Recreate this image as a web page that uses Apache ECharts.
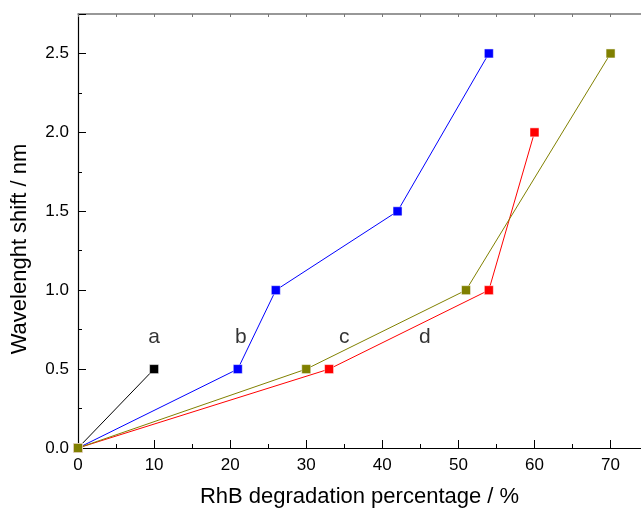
<!DOCTYPE html>
<html><head><meta charset="utf-8">
<script src="https://cdn.jsdelivr.net/npm/echarts@6/dist/echarts.min.js"></script>
<style>html,body{margin:0;padding:0;background:#fff}#c{width:641px;height:513px}</style>
</head><body><div id="c"></div>
<script>
const seriesA = [[0,0],[10,0.5]];
const seriesB = [[0,0],[21,0.5],[26,1.0],[42,1.5],[54,2.5]];
const seriesC = [[0,0],[30,0.5],[51,1.0],[70,2.5]];
const seriesD = [[0,0],[33,0.5],[54,1.0],[60,2.0]];
const labelNames = ['a','b','c','d'];
const labelPos = [[10,0.70],[21.4,0.70],[35,0.70],[45.6,0.70]];
const xTitle = 'RhB degradation percentage / %';
const yTitle = 'Wavelenght shift / nm';

const font = 'Liberation Sans, Arial, sans-serif';
const chart = echarts.init(document.getElementById('c'));
function line(data, color, z){
  return {type:'line', data:data, xAxisIndex:0, yAxisIndex:0, color:color, z:z,
    symbol:'rect', symbolSize:9, showAllSymbol:true,
    lineStyle:{color:color, width:1}, itemStyle:{color:color, borderColor:'#fff', borderWidth:0.5},
    animation:false};
}
chart.setOption({
  animation:false,
  grid:{left:78, right:0, top:14, bottom:64},
  xAxis:[{
    type:'value', min:0, max:74, interval:10, position:'bottom',
    name:xTitle, nameLocation:'middle', nameGap:38,
    nameTextStyle:{fontFamily:font, fontSize:22, color:'#000'},
    axisLine:{lineStyle:{color:'#000', width:1.2}},
    axisTick:{inside:true, length:8, lineStyle:{color:'#000'}},
    minorTick:{show:true, splitNumber:2, length:4, lineStyle:{color:'#000'}},
    axisLabel:{fontFamily:font, fontSize:17, color:'#000', margin:9, showMaxLabel:false},
    splitLine:{show:false}
  },{
    type:'value', min:0, max:74, interval:5, position:'top',
    axisLine:{onZero:false, lineStyle:{color:'#777', width:1.5}},
    axisTick:{inside:true, length:3, lineStyle:{color:'#777'}},
    axisLabel:{show:false}, splitLine:{show:false}
  }],
  yAxis:[{
    type:'value', min:0, max:2.75, interval:0.5,
    name:yTitle, nameLocation:'middle', nameGap:47,
    nameTextStyle:{fontFamily:font, fontSize:22, color:'#000', padding:[0,36,0,0]},
    axisLine:{show:true, lineStyle:{color:'#000', width:1.2}},
    axisTick:{show:true, inside:true, length:8, lineStyle:{color:'#000'}},
    minorTick:{show:true, splitNumber:2, length:4, lineStyle:{color:'#000'}},
    axisLabel:{fontFamily:font, fontSize:17, color:'#000', margin:9, showMaxLabel:false,
      formatter:v=>v.toFixed(1)},
    splitLine:{show:false}
  }],
  series:[
    line(seriesA,'#000000',5),
    line(seriesB,'#0000ff',6),
    line(seriesD,'#ff0000',7),
    line(seriesC,'#808000',8),
    {type:'scatter', symbolSize:0, silent:true, z:10,
      data:labelPos.map((p,i)=>({value:p, name:labelNames[i]})),
      label:{show:true, position:'inside', formatter:p=>p.name, fontFamily:font, fontSize:21, color:'#000'}}
  ]
});
</script></body></html>
